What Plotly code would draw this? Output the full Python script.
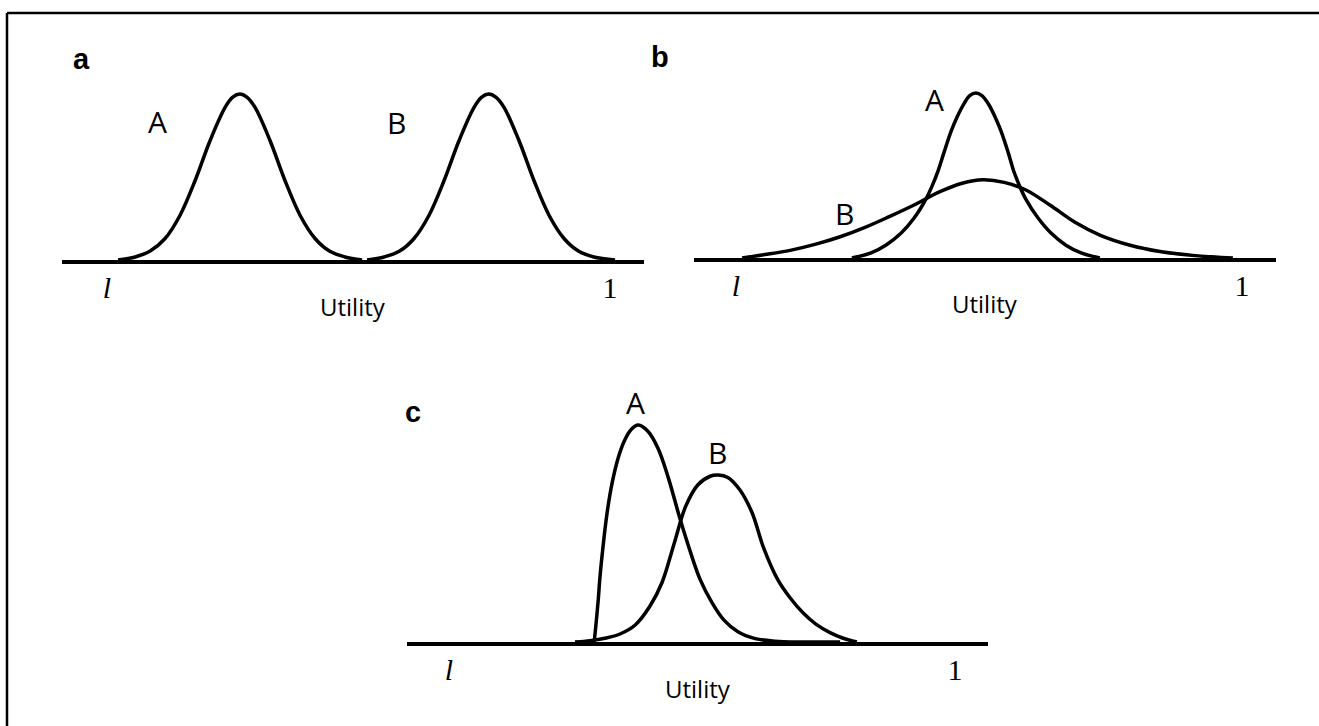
import plotly.graph_objects as go

# ---------------- data (utility scale: l = 0, 1 = 1; density in arbitrary units) ----------------
# Panel a
a_A_u = [0.022, 0.056, 0.085, 0.115, 0.145, 0.175, 0.205, 0.235, 0.250, 0.264, 0.278, 0.294, 0.324, 0.354, 0.384, 0.414, 0.443, 0.473, 0.507]
a_A_d = [0.0, 0.018, 0.051, 0.125, 0.262, 0.466, 0.703, 0.899, 0.958, 0.976, 0.958, 0.899, 0.703, 0.466, 0.262, 0.125, 0.051, 0.018, 0.0]
a_B_u = [0.517, 0.551, 0.581, 0.610, 0.640, 0.670, 0.700, 0.730, 0.745, 0.759, 0.773, 0.789, 0.819, 0.849, 0.879, 0.909, 0.938, 0.968, 1.010]
a_B_d = [0.0, 0.018, 0.051, 0.125, 0.262, 0.466, 0.703, 0.899, 0.958, 0.976, 0.958, 0.899, 0.703, 0.466, 0.262, 0.125, 0.051, 0.018, 0.0]

# Panel b
b_A_u = [0.229, 0.267, 0.296, 0.326, 0.352, 0.375, 0.387, 0.399, 0.411, 0.425, 0.437, 0.451, 0.462, 0.474,
         0.486, 0.498, 0.512, 0.524, 0.538, 0.549, 0.561, 0.573, 0.597, 0.623, 0.652, 0.682, 0.719]
b_A_d = [0.0, 0.03, 0.075, 0.145, 0.235, 0.345, 0.42, 0.51, 0.62, 0.745, 0.83, 0.91, 0.955, 0.97,
         0.955, 0.91, 0.83, 0.745, 0.62, 0.51, 0.42, 0.345, 0.235, 0.145, 0.075, 0.03, 0.0]
b_B_u = [0.012, 0.057, 0.107, 0.156, 0.206, 0.255, 0.304, 0.354, 0.403, 0.447, 0.488, 0.530, 0.573, 0.621, 0.670, 0.719, 0.779, 0.838, 0.907, 0.982]
b_B_d = [0.0, 0.02, 0.045, 0.08, 0.125, 0.18, 0.245, 0.315, 0.39, 0.44, 0.46, 0.445, 0.40, 0.31, 0.21, 0.135, 0.075, 0.038, 0.014, 0.0]

# Panel c
c_A_u = [0.287, 0.291, 0.295, 0.298, 0.304, 0.312, 0.322, 0.334, 0.346, 0.360, 0.374, 0.393, 0.413, 0.433, 0.457, 0.477, 0.496, 0.520, 0.543, 0.571, 0.605, 0.644, 0.694, 0.773]
c_A_d = [0.0, 0.12, 0.25, 0.37, 0.55, 0.75, 0.93, 1.08, 1.18, 1.25, 1.276, 1.24, 1.14, 0.97, 0.72, 0.53, 0.37, 0.23, 0.13, 0.06, 0.02, 0.005, 0.0, 0.0]
c_B_u = [0.249, 0.279, 0.308, 0.338, 0.368, 0.397, 0.421, 0.445, 0.468, 0.492, 0.516, 0.532, 0.551, 0.575, 0.599, 0.621, 0.650, 0.674, 0.700, 0.725, 0.753, 0.779, 0.806]
c_B_d = [0.0, 0.008, 0.022, 0.047, 0.10, 0.21, 0.35, 0.58, 0.80, 0.925, 0.975, 0.982, 0.968, 0.894, 0.76, 0.56, 0.365, 0.26, 0.17, 0.105, 0.055, 0.022, 0.0]

tick_vals = [0, 1]
tick_text = ["<i>l</i>", "1"]
axis_title = "Utility"
panel_letters = ["a", "b", "c"]

# label positions (utility, density)
a_labels = [("A", 0.100, 0.815), ("B", 0.5755, 0.806)]
b_labels = [("A", 0.392, 0.935), ("B", 0.214, 0.26)]
c_labels = [("A", 0.369, 1.406), ("B", 0.531, 1.115)]

# ---------------- figure ----------------
W, H = 1319, 726
LW = 3.5

fig = go.Figure()

def curve(u, d, xa, ya):
    fig.add_trace(go.Scatter(
        x=u, y=d, xaxis=xa, yaxis=ya, mode="lines",
        line=dict(color="black", width=LW, shape="spline", smoothing=1.0),
        hoverinfo="skip", showlegend=False))

curve(a_A_u, a_A_d, "x", "y")
curve(a_B_u, a_B_d, "x", "y")
curve(b_A_u, b_A_d, "x2", "y2")
curve(b_B_u, b_B_d, "x2", "y2")
curve(c_A_u, c_A_d, "x3", "y3")
curve(c_B_u, c_B_d, "x3", "y3")

def px_x(p):
    return p / W

def px_y(p):
    return 1 - p / H

YR = [0, 1.5]
YSCALE = 170.0  # px per density unit
YSPAN = (YR[1] - YR[0]) * YSCALE


def xaxis(dom_px, rng, anchor):
    return dict(
        domain=[px_x(dom_px[0]), px_x(dom_px[1])], range=rng, anchor=anchor,
        showline=True, linecolor="black", linewidth=LW, mirror=False,
        showgrid=False, zeroline=False, ticks="",
        tickvals=tick_vals, ticktext=tick_text,
        tickfont=dict(family="Liberation Serif", size=30, color="black"),
        ticklabelstandoff=-2,
        fixedrange=True,
    )


def yaxis(base_px, anchor):
    return dict(domain=[px_y(base_px), px_y(base_px - YSPAN)], range=YR, anchor=anchor,
                visible=False, fixedrange=True)

fig.update_layout(
    width=W, height=H,
    margin=dict(l=0, r=0, t=0, b=0),
    paper_bgcolor="white", plot_bgcolor="rgba(0,0,0,0)",
    xaxis=xaxis((62, 644), [-0.0895, 1.0676], "y"),
    yaxis=yaxis(260, "x"),
    xaxis2=xaxis((694, 1276), [-0.0830, 1.0672], "y2"),
    yaxis2=yaxis(258, "x2"),
    xaxis3=xaxis((407, 988), [-0.0830, 1.0652], "y3"),
    yaxis3=yaxis(642, "x3"),
)

annotations = []
for labels, xr, yr in [(a_labels, "x", "y"), (b_labels, "x2", "y2"), (c_labels, "x3", "y3")]:
    for txt, ux, dy in labels:
        annotations.append(dict(
            text=txt, x=ux, y=dy, xref=xr, yref=yr, showarrow=False,
            xanchor="center", yanchor="middle",
            font=dict(family="Open Sans", size=30, color="black")))

# "Utility" axis captions, centred under each axis (46 px below baseline)
for xr, yr in [("x", "y"), ("x2", "y2"), ("x3", "y3")]:
    annotations.append(dict(
        text=axis_title, x=0.5, y=-46 / YSPAN, xref=xr + " domain", yref=yr + " domain",
        showarrow=False, xanchor="center", yanchor="middle",
        font=dict(family="Open Sans", size=24, color="black")))

letter_pos = [(81, 59), (660, 57), (413, 412)]
for letter, (lx, ly) in zip(panel_letters, letter_pos):
    annotations.append(dict(
        text="<b>" + letter + "</b>", x=px_x(lx), y=px_y(ly), xref="paper", yref="paper",
        showarrow=False, xanchor="center", yanchor="middle",
        font=dict(family="Liberation Sans", size=29, color="black")))

fig.update_layout(annotations=annotations)

# outer frame: only the top and left edges are visible in the reference
frame = dict(color="black", width=2.5)
fig.add_shape(type="line", xref="paper", yref="paper",
              x0=px_x(7), x1=1.0, y0=px_y(13), y1=px_y(13), line=frame, layer="below")
fig.add_shape(type="line", xref="paper", yref="paper",
              x0=px_x(7), x1=px_x(7), y0=px_y(13), y1=0.0, line=frame, layer="below")

fig.write_html(
    "out.html", config={"displayModeBar": False},
    post_script=("document.documentElement.style.margin='0';document.documentElement.style.padding='0';"
                 "document.documentElement.style.overflow='hidden';"
                 "document.body.style.margin='0';document.body.style.padding='0';"
                 "document.body.style.overflow='hidden';"))
